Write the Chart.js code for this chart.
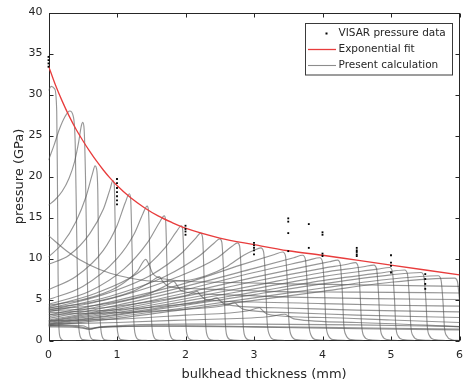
<!DOCTYPE html>
<html><head><meta charset="utf-8">
<script src="https://cdn.jsdelivr.net/npm/chart.js@4.4.0/dist/chart.umd.min.js"></script>
<style>html,body{margin:0;padding:0;background:#fff;}#c{display:block;}</style>
</head><body>
<canvas id="c" width="471" height="380"></canvas>
<script>
// ---- data ----
const xTickValues = [0, 1, 2, 3, 4, 5, 6];
const yTickValues = [0, 5, 10, 15, 20, 25, 30, 35, 40];

const fitX = [0,0.1,0.2,0.3,0.4,0.5,0.6,0.7,0.8,0.9,1.0,1.2,1.4,1.6,1.8,2.0,2.5,3.0,3.5,4.0,4.5,5.0,5.5,6.0];
const fitP = [33.5,31.2,29.2,27.4,25.8,24.4,23.1,21.9,20.8,19.8,18.9,17.4,16.2,15.2,14.4,13.7,12.5,11.7,10.95,10.4,9.8,9.2,8.6,8.0];

const visarX = [0,0,0,0, 1,1,1,1,1,1,1, 2,2,2,2, 3,3,3,3,3, 3.5,3.5,3.5,3.5, 3.8,3.8, 4,4,4,4, 4.5,4.5,4.5,4.5,4.5, 5,5,5,5, 5.5,5.5,5.5,5.5];
const visarP = [33.4,33.8,34.2,34.6, 19.7,19.2,18.6,18.1,17.6,17.1,16.6, 14.0,13.6,13.3,12.9, 11.9,11.6,11.3,11.0,10.5, 14.9,14.5,13.1,10.9, 14.2,11.3, 13.2,12.9,10.6,10.3, 11.3,11.0,10.8,10.5,10.3, 10.4,9.5,9.1,8.3, 8.1,7.5,6.9,6.3];

// present calculation: pressure profiles [thickness, pressure]
const profile01 = [[0,30.5],[0.04,31],[0.09,30.7],[0.12,28],[0.13,20],[0.14,8],[0.15,2],[0.17,0.4],[0.22,0],[0.4,0]];
const profile02 = [[0,22],[0.08,23.8],[0.16,25.8],[0.24,27.3],[0.31,28],[0.36,27.4],[0.39,24],[0.41,14],[0.43,4],[0.45,1],[0.5,0.1],[0.65,0]];
const profile03 = [[0,16.5],[0.1,17.2],[0.2,18.2],[0.3,19.8],[0.38,21.8],[0.44,24.2],[0.48,26.2],[0.5,26.6],[0.52,25.8],[0.54,20],[0.56,10],[0.58,3],[0.6,0.8],[0.65,0.1],[0.8,0]];
const profile04 = [[0,10.2],[0.2,11.8],[0.4,14.5],[0.55,17.6],[0.64,20.3],[0.68,21.3],[0.7,21],[0.72,18],[0.73,11],[0.75,3.5],[0.77,1],[0.82,0.1],[0.95,0]];
const profile05 = [[0,9.3],[0.3,10.4],[0.6,13],[0.8,16],[0.9,18.5],[0.94,19.5],[0.96,19],[0.975,13],[0.99,4],[1.01,1],[1.06,0.1],[1.2,0]];
const profile06 = [[0,6.2],[0.4,7.8],[0.8,11],[1.0,14],[1.12,16.8],[1.18,17.9],[1.2,17.2],[1.22,11],[1.24,3.5],[1.26,1],[1.32,0.1],[1.45,0]];
const profile07 = [[0,5],[0.5,6.6],[1.0,10],[1.25,13],[1.38,15.5],[1.44,16.4],[1.46,15.8],[1.48,10],[1.5,3.2],[1.52,1],[1.58,0.1],[1.7,0]];
const profile08 = [[0,4.4],[0.6,6],[1.1,8.7],[1.45,12],[1.62,14.4],[1.69,15.2],[1.71,14.6],[1.73,9],[1.75,3],[1.77,0.9],[1.83,0.1],[1.95,0]];
const profile09 = [[0,4.1],[0.7,5.8],[1.3,8.2],[1.7,11.3],[1.87,13.3],[1.94,14],[1.96,13.4],[1.98,8.5],[2.0,2.8],[2.02,0.8],[2.08,0.1],[2.2,0]];
const profile10 = [[0,3.9],[0.8,5.6],[1.5,8],[1.95,10.7],[2.15,12.5],[2.22,13.1],[2.25,12.5],[2.27,8],[2.29,2.6],[2.31,0.8],[2.37,0.1],[2.5,0]];
const profile11 = [[0,3.7],[0.9,5.4],[1.7,7.8],[2.2,10.3],[2.42,11.9],[2.5,12.4],[2.53,12],[2.56,7.5],[2.58,2.4],[2.6,0.7],[2.66,0.1],[2.8,0]];
const profile12 = [[0,3.5],[1,5.3],[1.9,7.8],[2.45,10],[2.68,11.5],[2.76,11.9],[2.79,11.5],[2.82,7],[2.84,2.2],[2.86,0.7],[2.92,0.1],[3.05,0]];
const profile13 = [[0,12.8],[0.3,10.7],[0.6,9.2],[0.9,8.2],[1.2,7.6],[1.6,7.2],[2.0,7.3],[2.3,7.9],[2.6,9.0],[2.85,10.4],[3.0,11.0],[3.1,11.3],[3.14,10.8],[3.17,7],[3.19,2.5],[3.22,0.8],[3.3,0.1],[3.45,0]];
const profile14 = [[0,3.1],[1,4.9],[2,7],[2.8,9.2],[3.3,10.5],[3.42,10.8],[3.46,10.3],[3.49,6.5],[3.51,2.3],[3.54,0.7],[3.62,0.1],[3.8,0]];
const profile15 = [[0,2.9],[1,4.6],[2,6.6],[3,8.8],[3.58,10.1],[3.71,10.4],[3.75,9.9],[3.78,6.2],[3.8,2.2],[3.83,0.7],[3.91,0.1],[4.1,0]];
const profile16 = [[0,2.7],[1,4.3],[2,6.2],[3,8.3],[3.8,9.8],[3.96,10.1],[4.0,9.6],[4.03,6],[4.05,2.1],[4.08,0.7],[4.16,0.1],[4.35,0]];
const profile17 = [[0,2.5],[1,4],[2,5.8],[3,7.7],[3.8,9.1],[4.1,9.6],[4.22,9.8],[4.26,9.3],[4.29,5.8],[4.31,2],[4.34,0.7],[4.42,0.1],[4.6,0]];
const profile18 = [[0,2.4],[1,3.8],[2,5.4],[3,7.2],[4,8.8],[4.36,9.3],[4.48,9.5],[4.52,9],[4.55,5.6],[4.57,2],[4.6,0.6],[4.68,0.1],[4.85,0]];
const profile19 = [[0,2.3],[1,3.6],[2,5.1],[3,6.7],[4,8.3],[4.6,9],[4.75,9.2],[4.79,8.7],[4.82,5.4],[4.84,1.9],[4.87,0.6],[4.95,0.1],[5.1,0]];
const profile20 = [[0,2.2],[1,3.4],[2,4.8],[3,6.3],[4,7.8],[4.8,8.7],[4.98,8.9],[5.02,8.4],[5.05,5.2],[5.07,1.8],[5.1,0.6],[5.18,0.1],[5.35,0]];
const profile21 = [[0,2.1],[1,3.2],[2,4.5],[3,5.9],[4,7.3],[4.9,8.3],[5.2,8.6],[5.24,8.1],[5.27,5],[5.29,1.7],[5.32,0.6],[5.4,0.1],[5.6,0]];
const profile22 = [[0,2],[1,3.1],[2,4.3],[3,5.6],[4,6.9],[5,8],[5.44,8.3],[5.48,7.8],[5.51,4.8],[5.53,1.7],[5.56,0.6],[5.64,0.1],[5.8,0]];
const profile23 = [[0,1.9],[1,2.9],[2,4],[3,5.2],[4,6.4],[5,7.5],[5.69,7.9],[5.73,7.4],[5.76,4.6],[5.78,1.6],[5.81,0.6],[5.89,0.1],[6,0]];
const profile24 = [[0,1.8],[1,2.7],[2,3.8],[3,4.9],[4,6],[5,7.1],[5.93,7.6],[5.97,7.2],[6,5]];
const late01 = [[0,4.3],[0.5,5.0],[1.0,6.5],[1.3,8.5],[1.42,9.9],[1.46,9.4],[1.52,8.2],[1.7,7.5],[2.5,7.1],[3.5,6.9],[4.5,6.8],[6,6.6]];
const late02 = [[0,4.0],[0.6,4.6],[1.2,5.9],[1.5,7.2],[1.62,7.8],[1.66,7.3],[1.75,6.6],[2.2,6.3],[3.2,6.0],[4.5,5.9],[6,5.8]];
const late03 = [[0,3.8],[0.7,4.3],[1.4,5.5],[1.72,6.7],[1.83,7.2],[1.87,6.8],[1.95,6.0],[2.5,5.6],[3.5,5.3],[4.7,5.1],[6,5.0]];
const late04 = [[0,3.6],[0.8,4.0],[1.6,4.9],[2.05,5.6],[2.17,6.0],[2.21,5.6],[2.3,5.0],[3,4.7],[4,4.5],[5,4.3],[6,4.2]];
const late05 = [[0,3.4],[0.9,3.7],[1.8,4.3],[2.35,4.9],[2.46,5.2],[2.5,4.9],[2.58,4.4],[3.3,4.0],[4.5,3.7],[6,3.5]];
const late06 = [[0,3.2],[1,3.4],[2,3.8],[2.6,4.3],[2.72,4.6],[2.76,4.3],[2.85,3.8],[3.5,3.4],[4.5,3.1],[6,2.8]];
const late07 = [[0,2.4],[1,2.6],[2,3.1],[2.9,3.6],[3.08,4.0],[3.12,3.7],[3.2,3.2],[4,2.8],[5,2.5],[6,2.2]];
const late08 = [[0,2.0],[1,2.2],[2,2.5],[3.2,2.9],[3.45,3.2],[3.5,3.0],[3.6,2.6],[4.5,2.2],[6,1.7]];
const late09 = [[0,1.75],[0.3,1.75],[0.5,1.6],[0.6,1.35],[0.7,1.55],[1,1.7],[2,1.8],[3,1.7],[4,1.6],[5,1.5],[6,1.4]];
const late10 = [[0,1.65],[0.4,1.6],[0.6,1.4],[0.75,1.6],[1.5,1.75],[2.5,1.7],[4,1.5],[6,1.3]];
const late11 = [[0,1.85],[0.5,1.8],[0.6,1.5],[0.8,1.7],[2,2.0],[3,2.0],[4.5,1.9],[6,1.7]];

const calcCurves = [profile01,profile02,profile03,profile04,profile05,profile06,profile07,profile08,
  profile09,profile10,profile11,profile12,profile13,profile14,profile15,profile16,profile17,profile18,
  profile19,profile20,profile21,profile22,profile23,profile24,
  late01,late02,late03,late04,late05,late06,late07,late08,late09,late10,late11];

const labelVisar = 'VISAR pressure data';
const labelFit = 'Exponential fit';
const labelCalc = 'Present calculation';

// ---- styles ----
const GREY = 'rgba(85,85,85,0.62)';
const RED = 'rgb(232,60,60)';
const AXIS = '#262626';
const FONT = '"DejaVu Sans", sans-serif';

const datasets = [];
datasets.push({
  label: labelVisar, showLine: false, clip: false,
  data: visarX.map((x, i) => ({x, y: visarP[i]})),
  pointRadius: 1.3, pointBackgroundColor: '#000', pointBorderWidth: 0, pointStyle: 'rect'
});
datasets.push({
  label: labelFit, showLine: true,
  data: fitX.map((x, i) => ({x, y: fitP[i]})),
  borderColor: RED, borderWidth: 1.3, pointRadius: 0, cubicInterpolationMode: 'monotone'
});
calcCurves.forEach((c, i) => datasets.push({
  label: i === 0 ? labelCalc : '', showLine: true,
  data: c.map(p => ({x: p[0], y: p[1]})),
  borderColor: GREY, borderWidth: 1.15, pointRadius: 0, cubicInterpolationMode: 'monotone'
}));

const matlabAxes = {
  id: 'matlabAxes',
  beforeDatasetsDraw(chart) {
    const {ctx, chartArea: a, scales: {x, y}} = chart;
    ctx.save();
    ctx.strokeStyle = AXIS; ctx.lineWidth = 1;
    const L = Math.round(a.left) + 0.5, R = Math.round(a.right) - 0.5;
    const T = Math.round(a.top) + 0.5, B = Math.round(a.bottom) - 0.5;
    ctx.strokeRect(L, T, R - L, B - T);
    ctx.beginPath();
    xTickValues.forEach(v => {
      const px = Math.round(x.getPixelForValue(v)) + 0.5;
      ctx.moveTo(px, B); ctx.lineTo(px, B - 4);
      ctx.moveTo(px, T); ctx.lineTo(px, T + 4);
    });
    yTickValues.forEach(v => {
      const py = Math.round(y.getPixelForValue(v)) + 0.5;
      ctx.moveTo(L, py); ctx.lineTo(L + 4, py);
      ctx.moveTo(R, py); ctx.lineTo(R - 4, py);
    });
    ctx.stroke();
    ctx.restore();
  },
  afterDraw(chart) {
    const {ctx} = chart;
    ctx.save();
    // axis titles
    ctx.fillStyle = AXIS;
    ctx.font = '13px ' + FONT;
    ctx.textAlign = 'center'; ctx.textBaseline = 'alphabetic';
    ctx.fillText('bulkhead thickness (mm)', 264, 377.5);
    ctx.save();
    ctx.translate(22.5, 176.5); ctx.rotate(-Math.PI / 2);
    ctx.fillText('pressure (GPa)', 0, 0);
    ctx.restore();
    // legend
    const lx = 305.5, ly = 23.5, lw = 147, lh = 51.5;
    ctx.fillStyle = '#fff'; ctx.fillRect(lx, ly, lw, lh);
    ctx.strokeStyle = '#3a3a3a'; ctx.lineWidth = 1; ctx.strokeRect(lx, ly, lw, lh);
    ctx.font = '10.5px ' + FONT; ctx.textAlign = 'left'; ctx.textBaseline = 'middle';
    const rows = [33.5, 49.5, 65.5];
    ctx.fillStyle = '#000'; ctx.fillRect(325.5, rows[0] - 1, 2, 2);
    ctx.lineWidth = 1.3;
    ctx.strokeStyle = RED; ctx.beginPath(); ctx.moveTo(308, rows[1]); ctx.lineTo(336, rows[1]); ctx.stroke();
    ctx.lineWidth = 1.1;
    ctx.strokeStyle = 'rgb(140,140,140)'; ctx.beginPath(); ctx.moveTo(308, rows[2]); ctx.lineTo(336, rows[2]); ctx.stroke();
    ctx.fillStyle = AXIS;
    [labelVisar, labelFit, labelCalc].forEach((t, i) => ctx.fillText(t, 338.5, rows[i]));
    ctx.restore();
  }
};

new Chart(document.getElementById('c'), {
  type: 'scatter',
  data: {datasets},
  options: {
    responsive: false, animation: false, devicePixelRatio: 1,
    layout: {padding: {top: 12.5, right: 7, left: 0, bottom: 0}},
    plugins: {legend: {display: false}, tooltip: {enabled: false}},
    scales: {
      x: {type: 'linear', min: 0, max: 6,
        ticks: {stepSize: 1, padding: 8, color: AXIS, font: {family: FONT, size: 11}, maxRotation: 0},
        grid: {display: false, drawTicks: false}, border: {display: false},
        afterBuildTicks(s) { s.ticks = xTickValues.map(v => ({value: v})); },
        afterFit(s) { s.height = 39.5; }},
      y: {type: 'linear', min: 0, max: 40,
        ticks: {stepSize: 5, padding: 6, color: AXIS, font: {family: FONT, size: 11}},
        grid: {display: false, drawTicks: false}, border: {display: false},
        afterBuildTicks(s) { s.ticks = yTickValues.map(v => ({value: v})); },
        afterFit(s) { s.width = 48.5; }}
    }
  },
  plugins: [matlabAxes]
});
</script>
</body></html>
